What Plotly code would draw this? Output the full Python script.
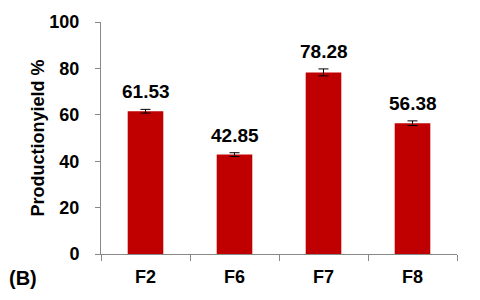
import plotly.graph_objects as go

categories = ["F2", "F6", "F7", "F8"]
values = [61.53, 42.85, 78.28, 56.38]
errors = [0.8, 0.8, 1.5, 1.0]
labels = ["61.53", "42.85", "78.28", "56.38"]
yticks = [0, 20, 40, 60, 80, 100]

FONT = "Liberation Sans, Arial"

fig = go.Figure()
fig.add_trace(go.Bar(
    x=categories, y=values,
    marker=dict(color="#C00000", line=dict(width=0)),
    width=0.4,
    error_y=dict(type="data", array=errors, color="black", thickness=1, width=5),
    showlegend=False,
))
for c, v, e, t in zip(categories, values, errors, labels):
    fig.add_annotation(
        x=c, y=v + e, text="<b>" + t + "</b>", showarrow=False,
        yanchor="bottom", yshift=5,
        font=dict(family=FONT, size=19, color="black"),
    )
fig.update_layout(
    width=480, height=300,
    margin=dict(l=101, r=23, t=22, b=46),
    plot_bgcolor="white", paper_bgcolor="white",
    font=dict(family=FONT, color="black"),
    xaxis=dict(
        showline=True, linecolor="#888888", linewidth=1,
        ticks="outside", ticklen=6, tickcolor="#888888",
        tickson="boundaries",
        tickvals=categories, ticktext=["<b>" + c + "</b>" for c in categories],
        tickfont=dict(size=18),
        ticklabelstandoff=6,
        range=[-0.5, 3.5],
    ),
    yaxis=dict(
        range=[0, 100],
        tickvals=yticks, ticktext=["<b>" + str(v) + "</b>" for v in yticks],
        showline=True, linecolor="#888888", linewidth=1,
        ticks="outside", ticklen=5, tickcolor="#888888",
        ticklabelstandoff=12,
        showgrid=False, zeroline=False,
        tickfont=dict(size=18),
        title=dict(text="<b>Productionyield %</b>", font=dict(size=18), standoff=0),
    ),
)
fig.add_annotation(
    text="<b>(B)</b>", xref="paper", yref="paper",
    x=-94 / 356, y=-24 / 232, showarrow=False,
    font=dict(family=FONT, size=20, color="black"),
    xanchor="left", yanchor="middle",
)
fig.write_html("out.html")
